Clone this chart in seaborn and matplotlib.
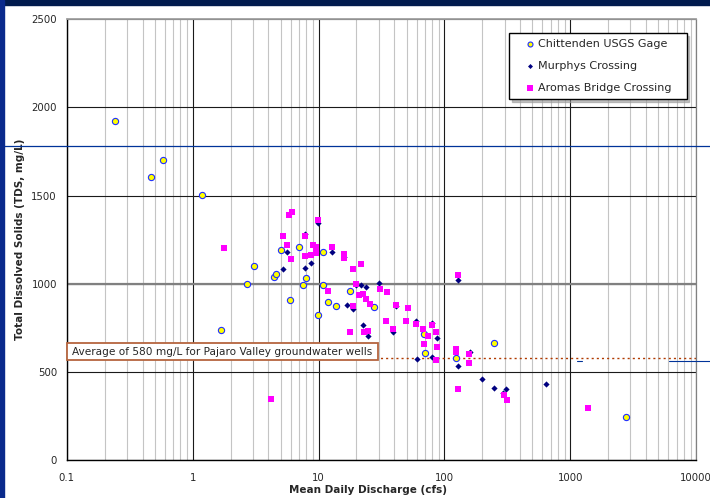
import numpy as np
import pandas as pd
import matplotlib
matplotlib.use('Agg')
import matplotlib.pyplot as plt
from matplotlib.ticker import FuncFormatter, NullFormatter, MultipleLocator, LogLocator
from matplotlib.patches import Rectangle
from matplotlib.lines import Line2D
import seaborn as sns

# Dados (vazao em cfs, TDS em mg/L)
chittenden_q = [0.24, 0.47, 0.58, 1.19, 1.68, 2.68, 3.07, 4.42, 4.62, 5.05, 5.92, 7.01, 7.5,
                7.88, 9.82, 10.9, 10.9, 11.85, 13.8, 17.7, 27.7, 68.5, 70.2, 123, 246, 2750]
chittenden_tds = [1921, 1604, 1701, 1502, 738, 1000, 1103, 1041, 1053, 1189, 906, 1208, 993,
                  1031, 823, 1178, 993, 896, 875, 957, 866, 714, 609, 579, 666, 247]

murphys_q = [5.24, 5.65, 7.83, 7.78, 8.68, 9.87, 12.9, 15.9, 16.7, 18.8, 19.9, 21.7, 23.7, 22.7,
             24.5, 30.4, 41.2, 38.7, 59.2, 60.1, 79.3, 79.6, 86.5, 127, 129, 160, 199, 249, 307,
             292, 637]
murphys_tds = [1082, 1181, 1281, 1091, 1120, 1347, 1181, 1153, 877, 857, 993, 993, 980, 766,
               704, 1002, 874, 724, 789, 572, 780, 583, 695, 1021, 534, 616, 462, 411, 404,
               383, 430]

aromas_q = [1.78, 4.16, 5.24, 5.65, 5.79, 6.14, 6.01, 7.81, 7.81, 8.72, 8.96, 9.48, 9.52, 9.91,
            11.9, 12.8, 15.9, 15.9, 17.7, 18.8, 18.8, 19.8, 20.9, 21.7, 22.6, 22.9, 23.7, 24.8,
            25.7, 30.7, 34.7, 34.5, 38.7, 41.6, 49.3, 51.4, 59.9, 67.9, 68.5, 73.7, 80, 85.3,
            86.5, 86.4, 124, 124, 127, 129, 158, 158, 296, 311, 1380]
aromas_tds = [1200, 347, 1272, 1222, 1392, 1404, 1141, 1272, 1160, 1161, 1220, 1208, 1174, 1361,
              959, 1210, 1169, 1147, 727, 1082, 875, 1000, 936, 1112, 942, 727, 915, 734,
              888, 972, 952, 790, 742, 882, 790, 860, 771, 742, 659, 707, 764, 725,
              643, 569, 631, 612, 1050, 403, 602, 554, 370, 343, 298]

avg_tds = 580
avg_label = 'Average of 580 mg/L for Pajaro Valley groundwater wells'
x_ticks = [0.1, 1, 10, 100, 1000, 10000]
y_ticks = [0, 500, 1000, 1500, 2000, 2500]

W, H = 710, 498

sns.set_style('white')
plt.rcParams['font.family'] = ['DejaVu Sans']

fig = plt.figure(figsize=(W / 100, H / 100), dpi=100)
ax = fig.add_axes([66.7 / W, 1 - 460.3 / H, 629.6 / W, 441.3 / H])
ax.set_facecolor('white')

#Series (ordem do Excel: circulos, losangos, quadrados)
df_c = pd.DataFrame({'q': chittenden_q, 'tds': chittenden_tds})
df_m = pd.DataFrame({'q': murphys_q, 'tds': murphys_tds})
df_a = pd.DataFrame({'q': aromas_q, 'tds': aromas_tds})

sns.scatterplot(data=df_c, x='q', y='tds', ax=ax, marker='o', s=20, color='#ffff00',
                edgecolor='#1f2fff', linewidth=0.8, label='Chittenden USGS Gage', zorder=4)
sns.scatterplot(data=df_m, x='q', y='tds', ax=ax, marker='D', s=10, color='#000080',
                linewidth=0, label='Murphys Crossing', zorder=5)
sns.scatterplot(data=df_a, x='q', y='tds', ax=ax, marker='s', s=22, color='#ff00ff',
                linewidth=0, label='Aromas Bridge Crossing', zorder=6)

ax.set_xscale('log')
ax.set_xlim(x_ticks[0], x_ticks[-1])
ax.set_ylim(y_ticks[0], y_ticks[-1])
ax.set_xticks(x_ticks)
ax.set_yticks(y_ticks)
ax.xaxis.set_major_formatter(FuncFormatter(lambda v, p: f'{v:g}'))
ax.xaxis.set_minor_locator(LogLocator(base=10, subs=np.arange(2, 10)))
ax.xaxis.set_minor_formatter(NullFormatter())
ax.yaxis.set_minor_locator(MultipleLocator(100))

#Grades
ax.grid(True, which='major', axis='both', color='#1a1a1a', lw=0.8, zorder=0)
ax.grid(True, which='minor', axis='x', color='#c4c4c4', lw=0.8, zorder=0)
ax.set_axisbelow(True)
ax.axhline(1000, color='#808080', lw=1.6, zorder=1)

ax.tick_params(axis='x', which='both', direction='out', length=2.5, width=0.8, color='black',
               labelsize=7.3, pad=6.5)
ax.tick_params(axis='y', which='both', direction='in', length=2.5, width=0.8, color='black',
               labelsize=7.3, pad=7)

for s in ['left', 'bottom']:
    ax.spines[s].set_color('black')
    ax.spines[s].set_linewidth(1.0)
ax.spines['top'].set_color('#a0a0a0')
ax.spines['top'].set_linewidth(1.3)
ax.spines['right'].set_color('#808080')
ax.spines['right'].set_linewidth(0.9)

ax.set_xlabel('Mean Daily Discharge (cfs)', fontsize=7.5, fontweight='bold')
ax.set_ylabel('Total Dissolved Solids (TDS, mg/L)', fontsize=7.5, fontweight='bold')
ax.xaxis.set_label_coords((368 - 66.7) / 629.6, -0.055)
ax.yaxis.set_label_coords((25 - 66.7) / 629.6, 0.5)

#Linha da media dos pocos
ax.axhline(avg_tds, color='#b03a00', lw=1.0, ls=(0, (1.5, 2.2)), zorder=2)

#Caixa de texto da media
fig.add_artist(Rectangle((67 / W, 1 - 360 / H), (378 - 67) / W, (360 - 343.3) / H,
                         transform=fig.transFigure, facecolor='white', edgecolor='#b5653f',
                         lw=1.3, zorder=7))
fig.text(72 / W, 1 - 351.7 / H, avg_label, fontsize=7.6, ha='left', va='center', zorder=8)

#Legenda
leg = ax.legend(loc='upper left', bbox_to_anchor=(509.3 / W, 1 - 106 / H, 177.4 / W, 72.7 / H),
                bbox_transform=fig.transFigure, mode='expand', borderaxespad=0,
                fontsize=8, frameon=True, fancybox=False, edgecolor='black',
                handlelength=2.7, handletextpad=-0.7, labelspacing=1.05, borderpad=0.55,
                scatterpoints=1, markerscale=0.8, shadow={'color': '#999999', 'alpha': 0.6})
leg.get_frame().set_linewidth(1.0)

#Bordas do slide
fig.add_artist(Rectangle((0, 1 - 5 / H), 1, 5 / H, transform=fig.transFigure,
                         color='#001a4d', zorder=10))
fig.add_artist(Rectangle((0, 0), 4 / W, 1, transform=fig.transFigure,
                         color='#0a2a8c', zorder=10))
fig.add_artist(Line2D([0, 1], [1 - 146 / H] * 2, transform=fig.transFigure,
                      color='#003399', lw=0.9, zorder=9))
fig.add_artist(Line2D([577 / W, 582 / W], [1 - 361.3 / H] * 2, transform=fig.transFigure,
                      color='#003399', lw=0.8, zorder=9))
fig.add_artist(Line2D([669 / W, 1], [1 - 361.3 / H] * 2, transform=fig.transFigure,
                      color='#003399', lw=0.8, zorder=9))

fig.savefig('out.png', dpi=100)
plt.close()
